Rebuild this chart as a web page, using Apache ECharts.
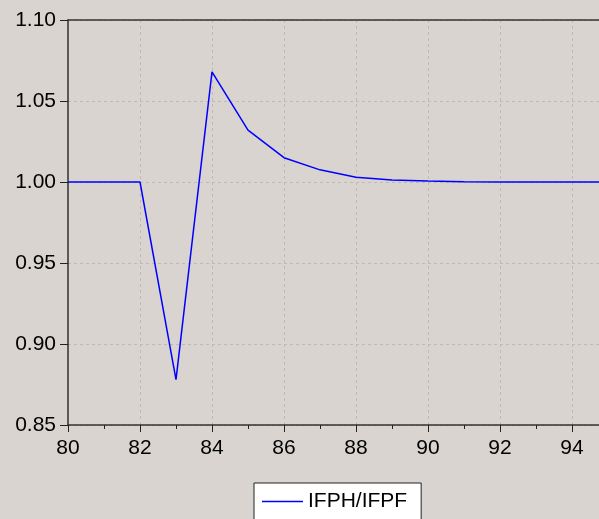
<!DOCTYPE html>
<html>
<head>
<meta charset="utf-8">
<script src="https://cdn.jsdelivr.net/npm/echarts@6/dist/echarts.min.js"></script>
<style>
html,body{margin:0;padding:0;background:#d9d4d0;}
#c{width:599px;height:519px;}
</style>
</head>
<body>
<div id="c"></div>
<script>
var years = [80,81,82,83,84,85,86,87,88,89,90,91,92,93,94,95];
var ratio = [1.000,1.000,1.000,0.878,1.068,1.032,1.015,1.0075,1.003,1.0012,1.0006,1.0002,1.0,1.0,1.0,1.0];
var seriesName = 'IFPH/IFPF';
var yTicks = ['0.85','0.90','0.95','1.00','1.05','1.10'];

var data = years.map(function(y,i){return [y, ratio[i]];});
var chart = echarts.init(document.getElementById('c'));
var font = 'Liberation Sans, Arial, sans-serif';
var gridLine = {show: true, lineStyle: {color: '#bdbab7', type: [3,3], width: 1}};
chart.setOption({
  backgroundColor: '#d9d4d0',
  animation: false,
  grid: {left: 68, top: 20, right: 0, bottom: 94},
  legend: {
    data: [{name: seriesName, icon: 'rect'}],
    left: 254, top: 483,
    itemWidth: 41, itemHeight: 1.5,
    backgroundColor: '#ffffff', borderColor: '#222', borderWidth: 1,
    padding: [8, 14, 14, 8],
    textStyle: {fontFamily: font, fontSize: 21, color: '#000'}
  },
  xAxis: [{
    type: 'value', min: 80, max: 94.75, interval: 2,
    axisLine: {show: true, lineStyle: {color: '#333', width: 1.5}},
    axisTick: {show: true, length: 7, lineStyle: {color: '#222', width: 1}},
    minorTick: {show: true, splitNumber: 2, length: 4, lineStyle: {color: '#222', width: 1}},
    axisLabel: {fontFamily: font, fontSize: 21, color: '#000', margin: 13, showMaxLabel: false},
    splitLine: gridLine
  }, {
    type: 'value', min: 80, max: 94.75, interval: 2, position: 'top',
    axisLine: {show: true, lineStyle: {color: '#333', width: 1.5}},
    axisTick: {show: false}, axisLabel: {show: false}, splitLine: {show: false}
  }],
  yAxis: {
    type: 'value', min: 0.85, max: 1.10, interval: 0.05,
    axisLine: {show: true, lineStyle: {color: '#333', width: 1.5}},
    axisTick: {show: true, length: 8, lineStyle: {color: '#222', width: 1}},
    axisLabel: {fontFamily: font, fontSize: 21, color: '#000', margin: 12,
      formatter: function(v){ var s = v.toFixed(2); return yTicks.indexOf(s) >= 0 ? s : ''; }},
    splitLine: gridLine
  },
  series: [{
    name: seriesName, type: 'line', data: data, showSymbol: false, symbol: 'none', xAxisIndex: 0,
    lineStyle: {color: '#0000ff', width: 1.5}, itemStyle: {color: '#0000ff'}
  }]
});
</script>
</body>
</html>
